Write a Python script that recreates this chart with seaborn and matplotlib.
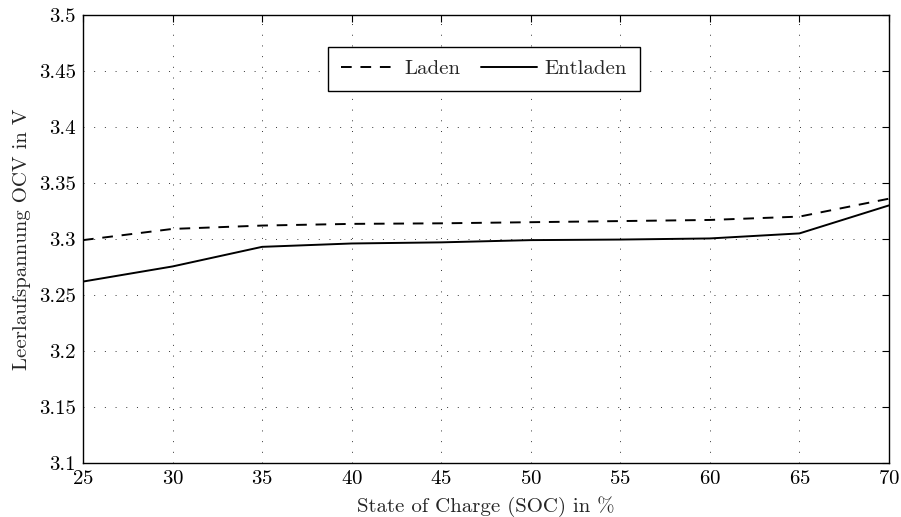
import matplotlib
matplotlib.use("Agg")
import matplotlib.pyplot as plt
from matplotlib.lines import Line2D
import seaborn as sns
import pandas as pd

# State of charge in percent
soc = [25, 30, 35, 40, 45, 50, 55, 60, 65, 70]
# Open-circuit voltage while charging (Laden) and discharging (Entladen)
ocv_laden = [3.299, 3.309, 3.312, 3.3135, 3.314, 3.315, 3.316, 3.317, 3.320, 3.336]
ocv_entladen = [3.262, 3.2755, 3.293, 3.296, 3.297, 3.299, 3.2995, 3.3005, 3.305, 3.330]
series_names = ["Laden", "Entladen"]
y_tick_labels = ["3.1", "3.15", "3.2", "3.25", "3.3", "3.35", "3.4", "3.45", "3.5"]

sns.set_theme(style="white")
plt.rcParams.update({
    "font.family": "serif",
    "font.serif": ["cmr10"],
    "mathtext.fontset": "cm",
    "axes.formatter.use_mathtext": True,
    "axes.unicode_minus": False,
})

FS = 15
LW = 1.4
DASH = (5.5, 4.5)

df = pd.DataFrame({
    "soc": soc * 2,
    "ocv": ocv_laden + ocv_entladen,
    "Serie": [series_names[0]] * len(soc) + [series_names[1]] * len(soc),
})

fig = plt.figure(figsize=(9.01, 5.17), dpi=100)
ax = fig.add_axes([83 / 901, 1 - 463 / 517, (889 - 83) / 901, (463 - 15) / 517])

sns.lineplot(data=df, x="soc", y="ocv", hue="Serie", style="Serie",
             palette=["black", "black"], dashes={"Laden": DASH, "Entladen": ""},
             linewidth=LW, ax=ax, legend=False)

ax.set_xlim(25, 70)
ax.set_ylim(3.1, 3.5)
ax.set_xticks(range(25, 71, 5))
ax.set_yticks([3.1 + 0.05 * i for i in range(len(y_tick_labels))])
ax.set_yticklabels(y_tick_labels)

ax.grid(True, color="black", linestyle=(0, (1, 10)), linewidth=0.7, alpha=0.8)
ax.tick_params(direction="in", top=True, right=True, length=5, width=0.8,
               labelsize=FS, colors="black", pad=5)
for s in ax.spines.values():
    s.set_color("black")
    s.set_linewidth(1.0)

ax.set_xlabel("State of Charge (SOC) in %", fontsize=FS)
ax.set_ylabel("Leerlaufspannung OCV in V", fontsize=FS)
ax.xaxis.set_label_coords(0.5, -0.074)
ax.yaxis.set_label_coords(-0.064, 0.5)

handles = [Line2D([], [], color="black", lw=LW, dashes=DASH),
           Line2D([], [], color="black", lw=LW)]
leg = ax.legend(handles, series_names, loc="upper center", bbox_to_anchor=(0.4975, 0.9286),
                borderaxespad=0, ncol=2, fontsize=FS, frameon=True, fancybox=False,
                framealpha=1, edgecolor="black", handlelength=2.7, columnspacing=1.0,
                borderpad=0.62, handletextpad=0.35)
leg.get_frame().set_linewidth(1.0)

fig.savefig("out.png", dpi=100)
